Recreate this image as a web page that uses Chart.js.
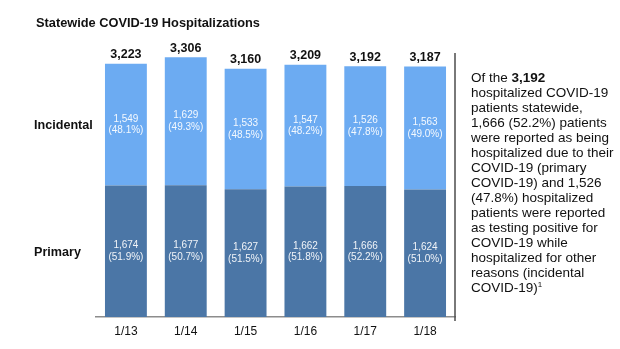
<!DOCTYPE html>
<html>
<head>
<meta charset="utf-8">
<script src="https://cdn.jsdelivr.net/npm/chart.js@4.4.1/dist/chart.umd.min.js"></script>
<style>
    body { margin: 0; background: #fff; font-family: Arial, "Liberation Sans", sans-serif; }
    #wrap { position: relative; width: 620px; height: 349px; }
    #title { position: absolute; left: 36px; top: 15px; font-size: 12.8px; font-weight: bold; color: #111; }
    #note { position: absolute; left: 471px; top: 70px; width: 150px; font-size: 13.5px; line-height: 15px; color: #111; }
    #note sup { font-size: 8px; line-height: 0; }
</style>
</head>
<body>
<div id="wrap">
    <canvas id="hospChart" width="620" height="349"></canvas>
    <div id="title">Statewide COVID-19 Hospitalizations</div>
    <div id="note">
        Of the <b>3,192</b><br>
        hospitalized COVID-19<br>
        patients statewide,<br>
        1,666 (52.2%) patients<br>
        were reported as being<br>
        hospitalized due to their<br>
        COVID-19 (primary<br>
        COVID-19) and 1,526<br>
        (47.8%) hospitalized<br>
        patients were reported<br>
        as testing positive for<br>
        COVID-19 while<br>
        hospitalized for other<br>
        reasons (incidental<br>
        COVID-19)<sup>1</sup>
    </div>
</div>
<script>
const days = ['1/13', '1/14', '1/15', '1/16', '1/17', '1/18'];
const primary = [1674, 1677, 1627, 1662, 1666, 1624];
const incidental = [1549, 1629, 1533, 1547, 1526, 1563];
const seriesNames = ['Primary', 'Incidental'];

const FONT = 'Arial, "Liberation Sans", sans-serif';
const totals = primary.map((p, i) => p + incidental[i]);

function fmt(n) {
    return n.toLocaleString('en-US');
}

// label segments, totals and the series names on the left
const barLabels = {
    id: 'barLabels',
    afterDatasetsDraw(chart) {
        const ctx = chart.ctx;
        const area = chart.chartArea;
        const metas = [chart.getDatasetMeta(0), chart.getDatasetMeta(1)];
        const series = [primary, incidental];

        ctx.save();
        ctx.textAlign = 'center';
        ctx.textBaseline = 'middle';
        ctx.fillStyle = 'rgba(255,255,255,0.92)';
        ctx.font = '10px ' + FONT;
        metas.forEach((meta, d) => {
            meta.data.forEach((bar, i) => {
                const mid = (bar.y + bar.base) / 2;
                const pct = (series[d][i] / totals[i] * 100).toFixed(1);
                ctx.fillText(fmt(series[d][i]), bar.x, mid - 5.5);
                ctx.fillText('(' + pct + '%)', bar.x, mid + 6);
            });
        });

        // stacked totals above each column
        ctx.fillStyle = '#111';
        ctx.font = 'bold 12.5px ' + FONT;
        metas[1].data.forEach((bar, i) => {
            ctx.fillText(fmt(totals[i]), bar.x, bar.y - 9);
        });

        // series names beside the first column
        ctx.textAlign = 'left';
        ctx.font = 'bold 12.6px ' + FONT;
        metas.forEach((meta, d) => {
            const first = meta.data[0];
            ctx.fillText(seriesNames[d], 34, (first.y + first.base) / 2 + 1);
        });

        // right-hand divider
        ctx.strokeStyle = '#4d4d4d';
        ctx.lineWidth = 1.5;
        ctx.beginPath();
        ctx.moveTo(area.right, area.top);
        ctx.lineTo(area.right, area.bottom + 4);
        ctx.stroke();
        ctx.restore();
    }
};

new Chart(document.getElementById('hospChart'), {
    type: 'bar',
    data: {
        labels: days,
        datasets: [
            { label: seriesNames[0], data: primary, backgroundColor: '#4b76a6' },
            { label: seriesNames[1], data: incidental, backgroundColor: '#6cabf2' }
        ]
    },
    options: {
        responsive: false,
        animation: false,
        layout: { padding: { left: 96, right: 165, top: 53, bottom: 0 } },
        datasets: { bar: { barPercentage: 0.7, categoryPercentage: 1, borderWidth: 0 } },
        plugins: { legend: { display: false }, tooltip: { enabled: false } },
        scales: {
            x: {
                stacked: true,
                afterFit: s => { s.height = 32; },
                grid: { display: false, drawTicks: false },
                border: { display: true, color: '#8c8c8c', width: 1.5 },
                ticks: { padding: 7, color: '#111', font: { family: FONT, size: 12 } }
            },
            y: {
                stacked: true,
                display: false,
                min: 0,
                max: 3360
            }
        }
    },
    plugins: [barLabels]
});
</script>
</body>
</html>
